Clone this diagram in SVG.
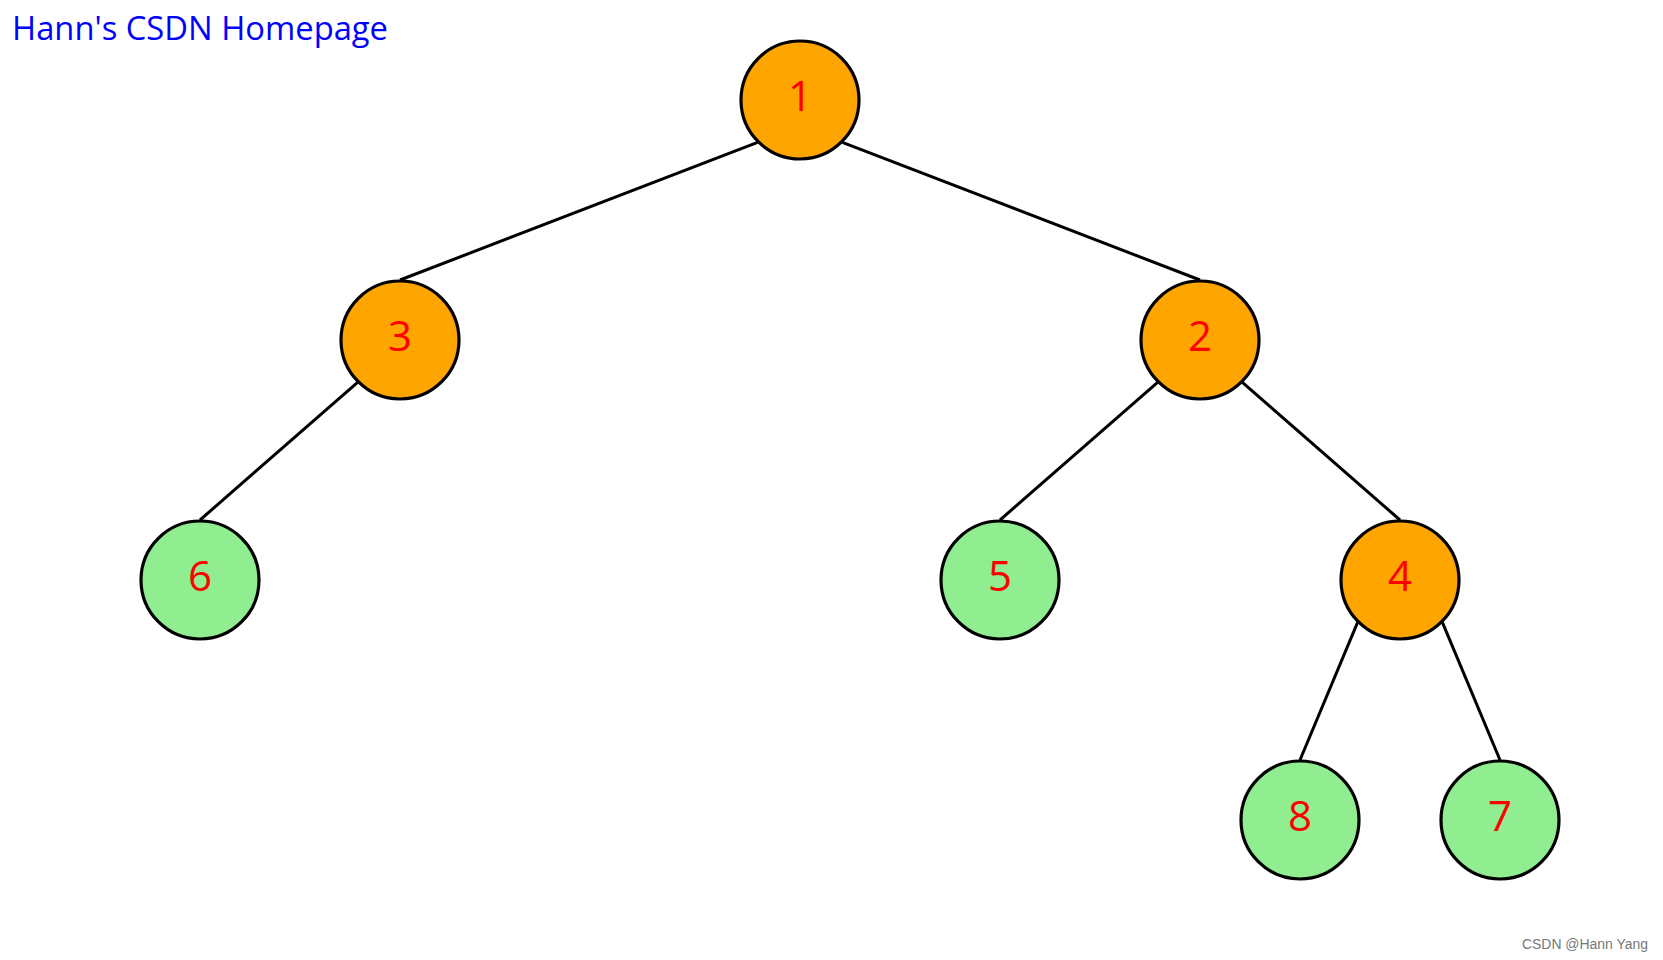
<svg xmlns="http://www.w3.org/2000/svg" width="1663" height="960" viewBox="0 0 1663 960">
<style>
.n circle{stroke:#000;stroke-width:3.2}
.hot circle{fill:#FFA500}
.leaf circle{fill:#90EE90}
.n text{font-family:"Open Sans","Liberation Sans",Arial,sans-serif;font-size:42px;fill:#FF0000;text-anchor:middle}
#edges line{stroke:#000;stroke-width:3}
</style>
<rect width="1663" height="960" fill="#fff"/>
<text x="12" y="40" font-family="'Open Sans','Liberation Sans',sans-serif" font-size="32" fill="#0000FF" textLength="376" lengthAdjust="spacingAndGlyphs">Hann's CSDN Homepage</text>
<g id="edges">
<line x1="757.6" y1="142.4" x2="400" y2="280"/>
<line x1="842.4" y1="142.4" x2="1200" y2="280"/>
<line x1="357.6" y1="382.4" x2="200" y2="520"/>
<line x1="1157.6" y1="382.4" x2="1000" y2="520"/>
<line x1="1242.4" y1="382.4" x2="1400" y2="520"/>
<line x1="1357.6" y1="622.4" x2="1300" y2="760"/>
<line x1="1442.4" y1="622.4" x2="1500" y2="760"/>
</g>
<g id="node1" class="n hot"><circle cx="800" cy="100" r="59"/><text x="800" y="111">1</text></g>
<g id="node3" class="n hot"><circle cx="400" cy="340" r="59"/><text x="400" y="351">3</text></g>
<g id="node2" class="n hot"><circle cx="1200" cy="340" r="59"/><text x="1200" y="351">2</text></g>
<g id="node6" class="n leaf"><circle cx="200" cy="580" r="59"/><text x="200" y="591">6</text></g>
<g id="node5" class="n leaf"><circle cx="1000" cy="580" r="59"/><text x="1000" y="591">5</text></g>
<g id="node4" class="n hot"><circle cx="1400" cy="580" r="59"/><text x="1400" y="591">4</text></g>
<g id="node8" class="n leaf"><circle cx="1300" cy="820" r="59"/><text x="1300" y="831">8</text></g>
<g id="node7" class="n leaf"><circle cx="1500" cy="820" r="59"/><text x="1500" y="831">7</text></g>
<text x="1522" y="949" font-family="'Liberation Sans',Arial,sans-serif" font-size="14" fill="#777" textLength="126" lengthAdjust="spacingAndGlyphs">CSDN @Hann Yang</text>
</svg>
